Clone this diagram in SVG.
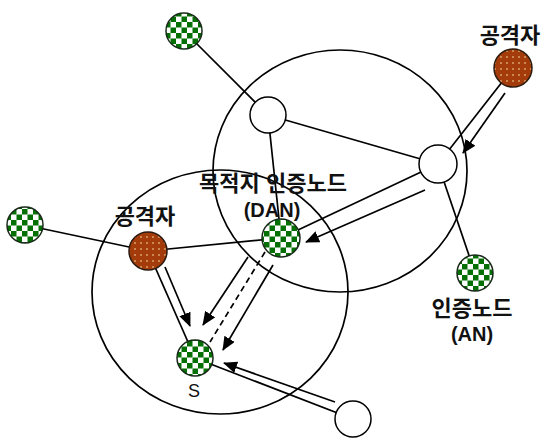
<svg xmlns="http://www.w3.org/2000/svg" width="544" height="439" viewBox="0 0 544 439">
<style>
.ln{stroke:#000;stroke-width:1.7;fill:none}
.ar{stroke:#000;stroke-width:1.7;fill:none;marker-end:url(#ah)}
.dash{stroke:#000;stroke-width:1.7;fill:none;stroke-dasharray:6 4}
.area{stroke:#000;stroke-width:1.7;fill:none}
.auth{fill:url(#checker);stroke:#1a2a1a;stroke-width:1.5}
.atk{fill:url(#dots);stroke:#2a1a10;stroke-width:1.5}
.plain{fill:#fff;stroke:#000;stroke-width:1.5}
.lbl{font-family:"Liberation Sans","Noto Sans CJK KR",sans-serif;font-size:22px;font-weight:bold;fill:#111;text-anchor:middle}
.lat{font-size:20px}
</style>
<defs>
<pattern id="checker" patternUnits="userSpaceOnUse" width="11" height="11">
<rect width="11" height="11" fill="#fff"/>
<rect width="5.5" height="5.5" fill="#047004"/>
<rect x="5.5" y="5.5" width="5.5" height="5.5" fill="#047004"/>
</pattern>
<pattern id="dots" patternUnits="userSpaceOnUse" width="6" height="6">
<rect width="6" height="6" fill="#a33c0a"/>
<circle cx="3" cy="3" r="0.8" fill="#ffe8b0"/>
</pattern>
<marker id="ah" markerUnits="userSpaceOnUse" markerWidth="14" markerHeight="12" viewBox="0 0 14 12" refX="13" refY="6" orient="auto">
<path d="M0,0 L14,6 L0,12 Z" fill="#000"/>
</marker>
</defs>

<g id="areas">
<ellipse class="area" cx="340" cy="171" rx="127" ry="121"/>
<ellipse class="area" cx="220" cy="292" rx="128" ry="122"/>
</g>

<g id="connectors">
<line class="ln" x1="184" y1="31" x2="268" y2="115"/>
<line class="ln" x1="268" y1="115" x2="438" y2="164"/>
<line class="ln" x1="268" y1="115" x2="281" y2="238"/>
<line class="ln" x1="438" y1="164" x2="475" y2="273"/>
<line class="ln" x1="25" y1="225" x2="148" y2="251"/>
<line class="ln" x1="148" y1="251" x2="281" y2="238"/>
<line class="ln" x1="513" y1="68" x2="438" y2="164"/>
<line class="ar" x1="505" y1="93" x2="463" y2="153"/>
<line class="ln" x1="438" y1="164" x2="281" y2="238"/>
<line class="ar" x1="425" y1="190" x2="306" y2="242"/>
<line class="ln" x1="148" y1="251" x2="195" y2="358"/>
<line class="ar" x1="165" y1="267" x2="190" y2="326"/>
<line class="ar" x1="248" y1="257" x2="203" y2="325"/>
<line class="dash" x1="265" y1="252" x2="210" y2="342"/>
<line class="ar" x1="273" y1="265" x2="223" y2="350"/>
<line class="ln" x1="195" y1="358" x2="353" y2="419"/>
<line class="ar" x1="335" y1="402" x2="224" y2="363"/>
</g>

<g id="node-auth-top"><circle class="auth" cx="184" cy="31" r="18"/></g>
<g id="node-attacker-top"><circle class="atk" cx="513" cy="68" r="19"/><text class="lbl" x="510" y="43">공격자</text></g>
<g id="node-relay-upper"><circle class="plain" cx="268" cy="115" r="18"/></g>
<g id="node-relay-right"><circle class="plain" cx="438" cy="164" r="19"/></g>
<g id="node-auth-left"><circle class="auth" cx="25" cy="225" r="18"/></g>
<g id="node-attacker-mid"><circle class="atk" cx="148" cy="251" r="19"/><text class="lbl" x="145" y="224">공격자</text></g>
<g id="node-dan"><circle class="auth" cx="281" cy="238" r="19"/><text class="lbl" x="273" y="191">목적지 인증노드</text><text class="lbl lat" x="272" y="217">(DAN)</text></g>
<g id="node-an"><circle class="auth" cx="475" cy="273" r="18"/><text class="lbl" x="472" y="316">인증노드</text><text class="lbl lat" x="472" y="341">(AN)</text></g>
<g id="node-s"><circle class="auth" cx="195" cy="358" r="18"/><text class="lbl lat" x="194" y="397" style="font-size:18px;font-weight:normal">S</text></g>
<g id="node-relay-bottom"><circle class="plain" cx="353" cy="419" r="18"/></g>
</svg>
